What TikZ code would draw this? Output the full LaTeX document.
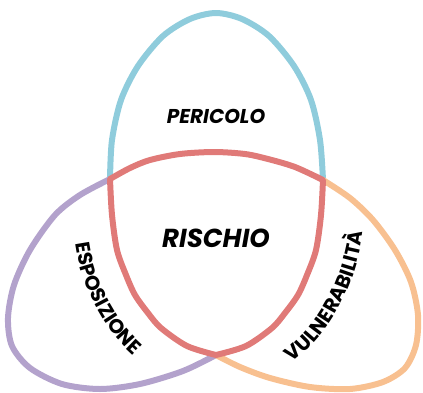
\documentclass[tikz,border=0pt]{standalone}
\usepackage{fontspec}
\setmainfont{Poppins}
\usepackage{tikz}
\usetikzlibrary{decorations.text}
\definecolor{pericoloc}{HTML}{8FCCDC}
\definecolor{rischioc}{HTML}{E07A78}
\definecolor{esposc}{HTML}{B3A2CC}
\definecolor{vulnc}{HTML}{F8C090}

\begin{document}
\begin{tikzpicture}[x=1pt,y=-1pt,line width=6pt,line cap=round,line join=round,
  lab/.style={font=\bfseries\itshape\fontsize{#1}{#1}\selectfont}]
  \useasboundingbox (0,0) rectangle (423,392);
  \coordinate (pl) at (110,179);
  \coordinate (pr) at (323,180);
  \coordinate (pb) at (216,355);

  % outer petals
  \draw[pericoloc] plot[smooth] coordinates {(110,179) (112,140) (121,100) (138,66)
    (163,36) (190,19) (216,13) (242,19) (269,36) (294,66) (311,100) (320,140) (323,180)};
  \draw[esposc] plot[smooth] coordinates {(110,179) (80,195) (55,215) (30,250)
    (14,285) (8,318) (12,346) (30,368) (62,384) (100,389) (140,384) (183,371) (216,355)};
  \draw[vulnc] plot[smooth] coordinates {(323,180) (350,198) (373,220) (395,250)
    (411,282) (418,315) (416,345) (405,368) (383,382) (350,389) (310,387) (270,378)
    (240,367) (216,355)};

  % central region
  \draw[rischioc] plot[smooth] coordinates {(110,179) (130,168) (150,160) (180,154)
    (214,152) (245,154) (268,159) (295,167) (323,180)}
    -- plot[smooth] coordinates {(323,180) (321,215) (316,250) (307,275) (298,295)
    (285,313) (272,328) (246,346) (216,355)}
    -- plot[smooth] coordinates {(216,355) (187,346) (161,328) (148,313) (135,295)
    (126,275) (117,250) (112,215) (110,179)} -- cycle;

  \node[lab=20] (pericolo) at (216,116) {PERICOLO};
  \node[lab=26] (rischio) at (216,238) {RISCHIO};

  \path[decorate,decoration={text along path,text align=center,
    text={|\bfseries\fontsize{20}{20}\selectfont|ESPOSIZIONE}}]
    (74,230) .. controls (78,285) and (105,335) .. (144,364);
  \path[decorate,decoration={text along path,text align=center,
    text={|\bfseries\fontsize{20}{20}\selectfont|VULNERABILITÀ}}]
    (284,368) .. controls (330,338) and (360,280) .. (364,222);
\end{tikzpicture}
\end{document}
